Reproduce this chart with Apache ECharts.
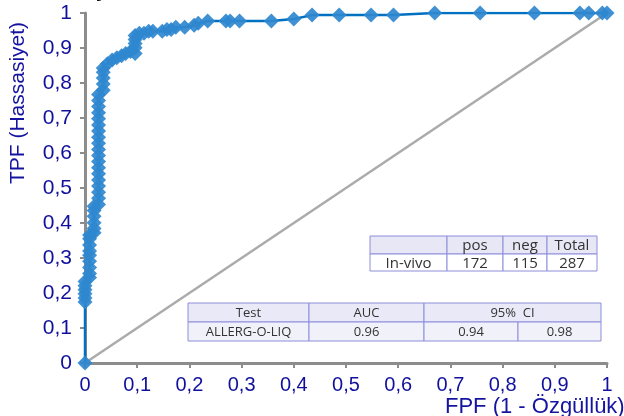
<!DOCTYPE html>
<html><head><meta charset="utf-8">
<script src="https://cdn.jsdelivr.net/npm/echarts@6/dist/echarts.min.js"></script>
<style>html,body{margin:0;padding:0;background:#fff}#c{width:624px;height:416px}</style>
</head><body><div id="c"></div>
<script>
// ROC curve points (FPF, TPF)
const fpf = [0,0,0,0,0,0,0,
  0.0087,0.0087,0.0087,0.0087,0.0087,0.0087,0.0087,0.0087,0.0087,
  0.0174,0.0174,0.0174,0.0174,0.0174,0.0174,
  0.026,0.026,0.026,0.026,0.026,0.026,0.026,0.026,0.026,0.026,0.026,0.026,0.026,0.026,0.026,0.026,0.026,0.026,0.026,
  0.035,0.035,0.035,0.035,0.035,
  0.043,0.052,0.061,0.070,0.078,0.087,0.096,0.096,0.096,0.096,0.096,
  0.104,0.113,0.122,0.130,0.148,0.157,0.165,0.174,0.191,0.209,0.217,0.235,0.270,0.278,0.296,0.357,0.400,
  0.435,0.487,0.548,0.591,0.670,0.757,0.861,0.948,0.965,0.991,1];
const tpf = [0,0.174,0.186,0.198,0.209,0.221,0.233,
  0.244,0.256,0.273,0.291,0.308,0.320,0.337,0.355,0.366,
  0.372,0.384,0.401,0.419,0.436,0.448,
  0.453,0.471,0.488,0.506,0.523,0.541,0.558,0.576,0.593,0.610,0.628,0.645,0.663,0.680,0.698,0.715,0.733,0.750,0.767,
  0.779,0.797,0.814,0.831,0.843,
  0.855,0.866,0.872,0.878,0.884,0.890,0.884,0.901,0.913,0.924,0.936,
  0.942,0.942,0.948,0.948,0.948,0.953,0.953,0.959,0.959,0.965,0.971,0.977,0.977,0.977,0.977,0.977,0.983,
  0.994,0.994,0.994,0.994,1,1,1,1,1,1,1];
const diagonalX = [0, 1];
const diagonalY = [0, 1];
const axisTicks = ['0','0,1','0,2','0,3','0,4','0,5','0,6','0,7','0,8','0,9','1'];
const yTitle = 'TPF (Hassasiyet)';
const xTitle = 'FPF (1 - Özgüllük)';
const table1Header = ['', 'pos', 'neg', 'Total'];
const table1Row = ['In-vivo', '172', '115', '287'];
const table2Header = ['Test', 'AUC', '95%  CI'];
const table2Row = ['ALLERG-O-LIQ', '0.96', '0.94', '0.98'];

const chart = echarts.init(document.getElementById('c'), null, {renderer:'canvas'});

const rocData = fpf.map((x,i)=>[x, tpf[i]]);
const diagData = diagonalX.map((x,i)=>[x, diagonalY[i]]);

function fmt(v){ const i = Math.round(v*10); return axisTicks[i] !== undefined ? axisTicks[i] : String(v); }

const g = [];
const border = '#8E8EDC';
function cell(x,y,w,h,fill,text,fs){
  g.push({type:'rect', shape:{x:x,y:y,width:w,height:h}, style:{fill:fill, stroke:border, lineWidth:1}, z:10});
  if(text) g.push({type:'text', x:x+w/2, y:y+h/2+1, style:{text:text, fill:'#333', fontSize:fs, fontFamily:'"Open Sans", "Liberation Sans", sans-serif', align:'center', verticalAlign:'middle'}, z:11});
}
// table 1
const t1x = [370, 447, 503, 547, 597];
for(let i=0;i<4;i++){
  cell(t1x[i], 236, t1x[i+1]-t1x[i], 18, '#E7E7F6', table1Header[i], 15);
  cell(t1x[i], 254, t1x[i+1]-t1x[i], 17, '#FFFFFF', table1Row[i], 15);
}
// table 2
const t2x = [188, 309, 424, 518, 601];
cell(t2x[0], 303, t2x[1]-t2x[0], 19, '#E9E9F7', table2Header[0], 13);
cell(t2x[1], 303, t2x[2]-t2x[1], 19, '#E9E9F7', table2Header[1], 13);
cell(t2x[2], 303, t2x[4]-t2x[2], 19, '#E9E9F7', table2Header[2], 13);
for(let i=0;i<4;i++) cell(t2x[i], 322, t2x[i+1]-t2x[i], 19, '#F1F1FA', table2Row[i], 13);

// axis titles
g.push({type:'text', x:18, y:103, rotation:Math.PI/2, style:{text:yTitle, fill:'#1414A0', fontSize:21, fontFamily:'"Liberation Sans", Arial, sans-serif', align:'center', verticalAlign:'middle'}, z:5});
g.push({type:'text', x:445, y:396, style:{text:xTitle, fill:'#1414A0', fontSize:22, fontFamily:'"Liberation Sans", Arial, sans-serif', align:'left', verticalAlign:'top'}, z:5});
// fragment of a title cut off at the top
g.push({type:'text', x:96, y:-19, style:{text:'y', fill:'#111', fontSize:20, fontWeight:'bold', fontFamily:'"Liberation Sans", Arial, sans-serif', align:'left', verticalAlign:'top'}, z:5});

const axisCommon = {
  type:'value', min:0, max:1, interval:0.1,
  axisLine:{show:true, lineStyle:{color:'#8C8C8C', width:3}},
  axisTick:{show:true, length:5, lineStyle:{color:'#8C8C8C', width:2}},
  splitLine:{show:false}
};
const lblFont = '"Liberation Sans", Arial, sans-serif';

chart.setOption({
  animation:false,
  grid:{left:85, right:17, top:13, bottom:53, containLabel:false},
  xAxis:Object.assign({}, axisCommon, {axisLabel:{color:'#10109C', fontSize:20, fontFamily:lblFont, formatter:fmt, margin:12}}),
  yAxis:Object.assign({}, axisCommon, {axisLabel:{color:'#10109C', fontSize:21, fontFamily:lblFont, formatter:fmt, margin:13}}),
  series:[
    {type:'line', data:diagData, showSymbol:false, silent:true, lineStyle:{color:'#ABABAB', width:2.5}, z:1},
    {type:'line', data:rocData, symbol:'diamond', symbolSize:15, showAllSymbol:true,
     itemStyle:{color:'#2F88CF', opacity:0.92}, lineStyle:{color:'#0070C0', width:2.5}, z:3}
  ],
  graphic:g
});
</script></body></html>
